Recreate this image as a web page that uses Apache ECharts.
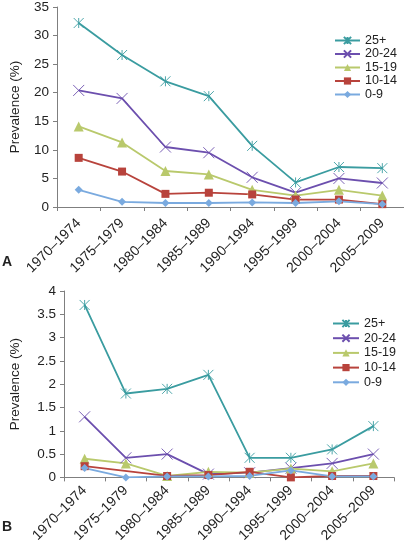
<!DOCTYPE html>
<html>
<head>
<meta charset="utf-8">
<script src="https://cdn.jsdelivr.net/npm/echarts@6/dist/echarts.min.js"></script>
<style>
html,body{margin:0;padding:0;background:#fff;}
#c{width:404px;height:545px;}
</style>
</head>
<body>
<div id="c"></div>
<script>
var categories = ['1970–1974','1975–1979','1980–1984','1985–1989','1990–1994','1995–1999','2000–2004','2005–2009'];
var seriesNames = ['25+','20-24','15-19','10-14','0-9'];

// Panel A values (%)
var a25plus = [32.2, 26.6, 22.0, 19.4, 10.7, 4.3, 7.0, 6.8];
var a20_24  = [20.4, 19.0, 10.5, 9.5, 5.2, 2.5, 5.0, 4.2];
var a15_19  = [14.1, 11.3, 6.3, 5.7, 3.0, 2.0, 3.0, 2.0];
var a10_14  = [8.6, 6.2, 2.3, 2.5, 2.2, 1.3, 1.3, 0.5];
var a0_9    = [3.0, 0.9, 0.7, 0.7, 0.8, 0.7, 1.0, 0.5];

// Panel B values (%)
var b25plus = [3.7, 1.8, 1.9, 2.2, 0.42, 0.42, 0.6, 1.1];
var b20_24  = [1.3, 0.42, 0.5, 0.07, 0.1, 0.2, 0.3, 0.5];
var b15_19  = [0.4, 0.3, 0.03, 0.12, 0.1, 0.19, 0.13, 0.3];
var b10_14  = [0.24, null, 0.03, 0.05, 0.12, 0.0, 0.03, 0.03];
var b0_9    = [0.2, 0.0, 0.02, 0.02, 0.03, 0.15, 0.02, 0.02];

var yTicksA = {min:0, max:35, interval:5};
var yTicksB = {min:0, max:4, interval:0.5};

var colors = ['#3a9ca0','#6c4fae','#b9c96c','#b8433c','#7aaadf'];
var symbols = [
  'path://M0,0L10,10M10,0L0,10M5,0L5,10',
  'path://M0,0L10,10M10,0L0,10',
  'triangle','rect','diamond'
];
var symbolSizes = [10, 11, 10, 8, 8];
var FONT = '"Liberation Sans", Arial, sans-serif';

function mkSeries(name, i, data, idx){
  return {
    name: name, type: 'line', xAxisIndex: idx, yAxisIndex: idx,
    data: data, connectNulls: true,
    symbol: symbols[i], symbolSize: symbolSizes[i],
    showAllSymbol: true,
    lineStyle: {color: colors[i], width: 1.8},
    itemStyle: {color: colors[i], borderColor: colors[i], borderWidth: (i < 2 ? 0.9 : 0)},
    animation: false
  };
}
var dataA = [a25plus, a20_24, a15_19, a10_14, a0_9];
var dataB = [b25plus, b20_24, b15_19, b10_14, b0_9];
var series = [];
seriesNames.forEach(function(n,i){ series.push(mkSeries(n,i,dataA[i],0)); });
seriesNames.forEach(function(n,i){ series.push(mkSeries(n,i,dataB[i],1)); });

function xAx(idx){
  return {
    type:'category', gridIndex: idx, data: categories, boundaryGap: true,
    axisLine:{lineStyle:{color:'#7f7f7f', width:1}},
    axisTick:{show:true, length:4, inside:false, lineStyle:{color:'#7f7f7f'}},
    axisLabel:{rotate:45, interval:0, margin:(idx===0?14:11), color:'#222', fontSize:14, fontFamily:FONT},
    splitLine:{show:false}
  };
}
function yAx(idx, t){
  return {
    type:'value', gridIndex: idx, min:t.min, max:t.max, interval:t.interval,
    name:'Prevalence (%)', nameLocation:'middle', nameGap: (idx===0?35:42), nameRotate:90,
    nameTextStyle:{color:'#222', fontSize:13.5, fontFamily:FONT},
    axisLine:{show:true, lineStyle:{color:'#7f7f7f', width:1}},
    axisTick:{show:true, length:4, lineStyle:{color:'#7f7f7f'}},
    axisLabel:{color:'#222', fontSize:13.5, fontFamily:FONT, margin:8},
    splitLine:{show:false}
  };
}

var chart = echarts.init(document.getElementById('c'), null, {renderer:'canvas'});
chart.setOption({
  backgroundColor:'#fff',
  animation:false,
  grid:[
    {left:43, top:7, width:362, height:200},
    {left:50, top:291, width:344, height:191}
  ],
  xAxis:[xAx(0), xAx(1)],
  yAxis:[yAx(0,yTicksA), yAx(1,yTicksB)],
  legend:[
    {orient:'vertical', left:329, top:29, itemWidth:25, itemHeight:9, itemGap:0.5,
     data:seriesNames, textStyle:{fontSize:12.5, color:'#222', fontFamily:FONT}, selectedMode:false},
    {orient:'vertical', left:327, top:312, itemWidth:26, itemHeight:9, itemGap:1.7,
     data:seriesNames, textStyle:{fontSize:12.5, color:'#222', fontFamily:FONT}, selectedMode:false}
  ],
  graphic:[
    {type:'text', left:2, top:255, style:{text:'A', fontSize:14, fontWeight:'bold', fill:'#222', fontFamily:FONT}},
    {type:'text', left:2, top:520, style:{text:'B', fontSize:14, fontWeight:'bold', fill:'#222', fontFamily:FONT}}
  ],
  series: series
});
</script>
</body>
</html>
